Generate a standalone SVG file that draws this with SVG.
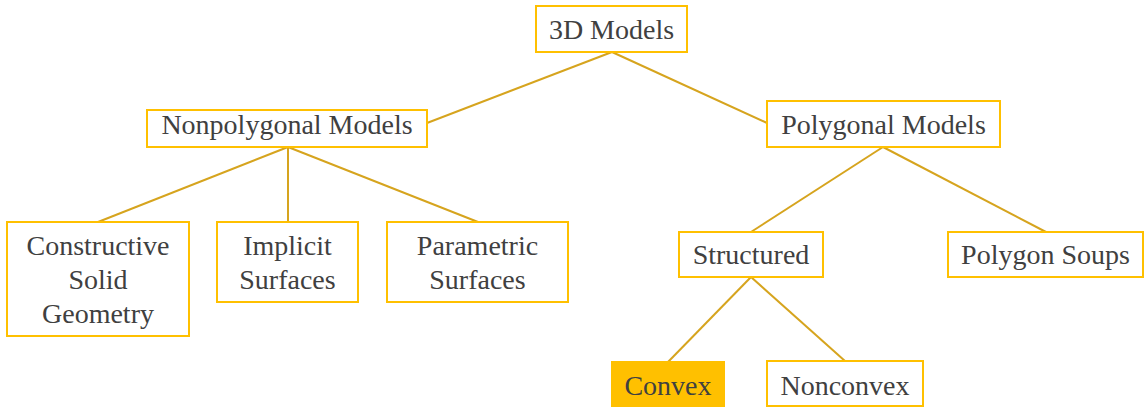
<svg xmlns="http://www.w3.org/2000/svg" width="1145" height="407" viewBox="0 0 1145 407">
<style>
.box{fill:#ffffff;stroke:#FFC000;stroke-width:2}
.sel{fill:#FFC000;stroke:#FFC000;stroke-width:2}
.t{font-family:"Liberation Serif","Times New Roman",serif;font-size:28px;fill:#404040;text-anchor:middle}
.c{stroke:#D6A41E;stroke-width:2;fill:none}
</style>
<rect width="1145" height="407" fill="#ffffff"/>
<g id="connectors">
<line class="c" x1="612" y1="52" x2="427" y2="123"/>
<line class="c" x1="612" y1="52" x2="767" y2="123"/>
<line class="c" x1="288" y1="147" x2="98" y2="222"/>
<line class="c" x1="288" y1="147" x2="288" y2="222"/>
<line class="c" x1="288" y1="147" x2="478" y2="222"/>
<line class="c" x1="883" y1="147" x2="751" y2="232"/>
<line class="c" x1="883" y1="147" x2="1046" y2="232"/>
<line class="c" x1="751" y1="277" x2="668" y2="362"/>
<line class="c" x1="751" y1="277" x2="845" y2="361"/>
</g>
<g id="n3d">
<rect class="box" x="536" y="6" width="151" height="46"/>
<text class="t" x="611.5" y="38.5">3D Models</text>
</g>
<g id="nonpoly">
<rect class="box" x="147" y="110" width="280" height="37"/>
<text class="t" x="287" y="134">Nonpolygonal Models</text>
</g>
<g id="poly">
<rect class="box" x="767" y="101" width="233" height="46"/>
<text class="t" x="883.5" y="134">Polygonal Models</text>
</g>
<g id="csg">
<rect class="box" x="7" y="222" width="182" height="114"/>
<text class="t" x="98" y="255">Constructive</text>
<text class="t" x="98" y="289">Solid</text>
<text class="t" x="98" y="323">Geometry</text>
</g>
<g id="implicit">
<rect class="box" x="217" y="222" width="141" height="80"/>
<text class="t" x="287.5" y="255">Implicit</text>
<text class="t" x="287.5" y="289">Surfaces</text>
</g>
<g id="parametric">
<rect class="box" x="387" y="222" width="181" height="80"/>
<text class="t" x="477.5" y="255">Parametric</text>
<text class="t" x="477.5" y="289">Surfaces</text>
</g>
<g id="structured">
<rect class="box" x="679" y="232" width="144" height="45"/>
<text class="t" x="751" y="264">Structured</text>
</g>
<g id="soups">
<rect class="box" x="948" y="232" width="195" height="45"/>
<text class="t" x="1045.5" y="264">Polygon Soups</text>
</g>
<g id="convex">
<rect class="sel" x="612" y="362" width="112" height="47"/>
<text class="t" x="668" y="395">Convex</text>
</g>
<g id="nonconvex">
<rect class="box" x="767" y="361" width="156" height="45"/>
<text class="t" x="845" y="395">Nonconvex</text>
</g>
</svg>
